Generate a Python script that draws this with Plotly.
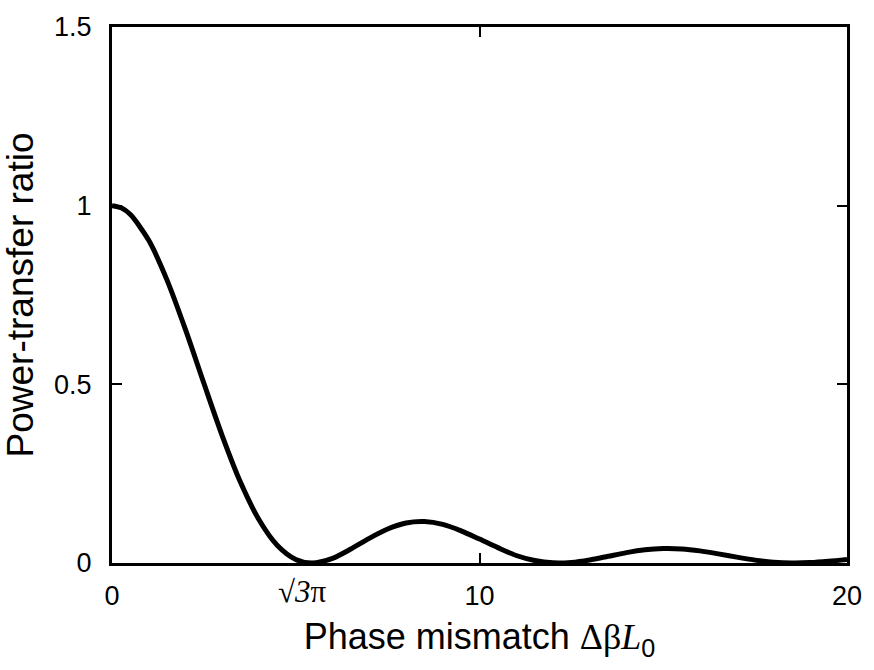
import plotly.graph_objects as go

# Data
phase_mismatch = [0, 0.25, 0.5, 1, 1.5, 2, 2.5, 3, 3.5, 4, 4.5, 5, 5.44, 6, 6.5, 7, 7.5, 8, 8.5,
                  9, 9.5, 10, 10.5, 11, 11.5, 12, 12.5, 13, 13.5, 14, 14.5, 15, 15.5,
                  16, 16.5, 17, 17.5, 18, 18.5, 19, 19.5, 20]
power_ratio = [1.0, 0.994, 0.975, 0.903, 0.791, 0.653, 0.503, 0.356, 0.225, 0.121, 0.049, 0.010, 0.0,
               0.013, 0.039, 0.069, 0.095, 0.112, 0.116, 0.108, 0.090, 0.067, 0.043, 0.021,
               0.007, 0.0004, 0.0015, 0.0085, 0.0187, 0.029, 0.0369, 0.0405, 0.0394,
               0.0339, 0.0256, 0.0164, 0.0081, 0.0024, 0.0001, 0.0011, 0.0048, 0.0099]

x_tickvals = [0, 10, 20]
x_ticktext = ["0", "10", "20"]
sqrt3pi_pos = 5.441
y_tickvals = [0, 0.5, 1, 1.5]
y_ticktext = ["0", "0.5", "1", "1.5"]

fig = go.Figure()
fig.add_trace(go.Scatter(x=phase_mismatch, y=power_ratio, mode="lines",
                         line=dict(color="black", width=5, shape="spline", smoothing=0.8),
                         showlegend=False, hoverinfo="skip"))

fig.add_annotation(x=sqrt3pi_pos, y=0, xref="x", yref="paper",
                   text="√<i>3</i>π",
                   showarrow=False, yanchor="top", yshift=-9, xshift=-9,
                   font=dict(family="Liberation Serif", size=31, color="black"))

fig.update_layout(
    width=874, height=670,
    margin=dict(l=112, r=16, t=22, b=107),
    paper_bgcolor="white", plot_bgcolor="white",
    font=dict(family="Liberation Sans", size=27, color="black"),
    xaxis=dict(range=[0, 20], tickvals=x_tickvals, ticktext=x_ticktext,
               ticks="inside", ticklen=10, tickwidth=2, tickcolor="black",
               ticklabelstandoff=7,
               showline=True, linewidth=3, linecolor="black", mirror="allticks",
               showgrid=False, zeroline=False,
               tickfont=dict(size=27),
               title=dict(text="Phase mismatch <span style='font-family:Liberation Serif'>Δβ<i>L</i></span><sub>0</sub>",
                          font=dict(size=36), standoff=14)),
    yaxis=dict(range=[0, 1.5], tickvals=y_tickvals, ticktext=y_ticktext,
               ticks="inside", ticklen=10, tickwidth=2, tickcolor="black",
               ticklabelstandoff=12,
               showline=True, linewidth=3, linecolor="black", mirror="allticks",
               showgrid=False, zeroline=False,
               tickfont=dict(size=27),
               title=dict(text="Power-transfer ratio", font=dict(size=37), standoff=12)),
)

fig.write_html("out.html")
